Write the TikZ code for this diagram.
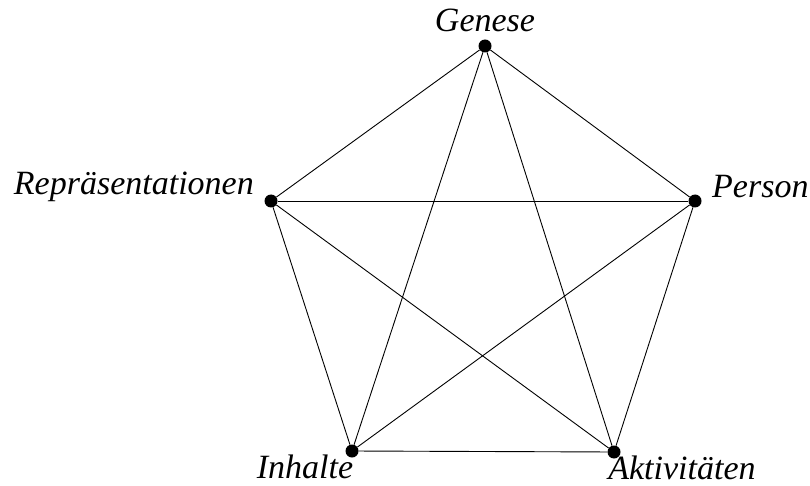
\documentclass[tikz,border=0pt]{standalone}
\usepackage{fontspec}
\setmainfont{Liberation Serif}
\usetikzlibrary{positioning}

\begin{document}
\begin{tikzpicture}[
    x=1pt, y=-1pt,
    dot/.style={circle, fill=black, inner sep=0pt, minimum size=13pt},
    lbl/.style={inner sep=0pt, font=\fontsize{34}{40}\selectfont\itshape},
    edge/.style={line width=0.9pt}
]
\useasboundingbox (0,0) rectangle (810,486);

% Ecken
\node[dot] (gen) at (485,46) {};
\node[dot] (per) at (695,201) {};
\node[dot] (akt) at (614,452) {};
\node[dot] (inh) at (352,451) {};
\node[dot] (rep) at (271,201) {};

% Beschriftungen
\node[lbl, anchor=base, yshift=14pt] (tgen) at (gen) {Genese};
\node[lbl, anchor=base west, xshift=17pt, yshift=3pt] (tper) at (per) {Person};
\node[lbl, anchor=base east, xshift=-17pt, yshift=6pt] (trep) at (rep) {Repräsentationen};
\node[lbl, anchor=base, xshift=-47pt, yshift=-27pt] (tinh) at (inh) {Inhalte};
\node[lbl, anchor=base, xshift=68pt, yshift=-27pt] (takt) at (akt) {Aktivitäten};

% Kanten
\foreach \a/\b in {gen/per, gen/akt, gen/inh, gen/rep, per/akt, per/inh, per/rep, akt/inh, akt/rep, inh/rep}
    \draw[edge] (\a) -- (\b);

\end{tikzpicture}
\end{document}
